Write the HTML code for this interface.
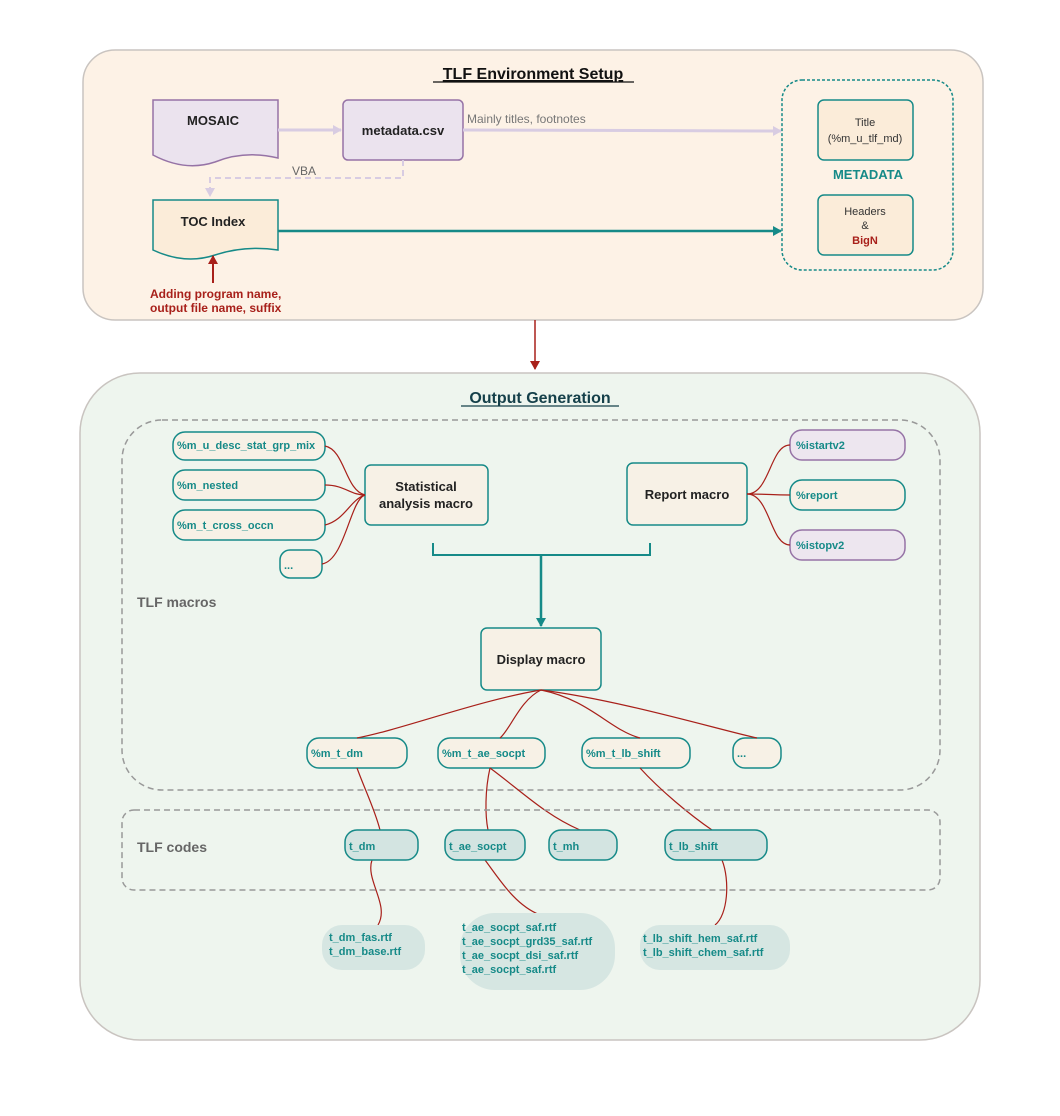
<!DOCTYPE html>
<html><head><meta charset="utf-8"><style>
body{margin:0;background:#fff}
svg text{font-family:"Liberation Sans",sans-serif}
</style></head><body>
<svg width="1060" height="1111" viewBox="0 0 1060 1111" xmlns="http://www.w3.org/2000/svg">
<defs>
<marker id="mt" markerWidth="10" markerHeight="10" refX="8" refY="5" orient="auto" markerUnits="userSpaceOnUse"><path d="M0,0 L9,5 L0,10 z" fill="#168a88"/></marker>
<marker id="mp" markerWidth="10" markerHeight="10" refX="8" refY="5" orient="auto" markerUnits="userSpaceOnUse"><path d="M0,0 L9,5 L0,10 z" fill="#d8cce2"/></marker>
<marker id="mr" markerWidth="10" markerHeight="10" refX="8" refY="5" orient="auto" markerUnits="userSpaceOnUse"><path d="M0,0 L9,5 L0,10 z" fill="#a8201a"/></marker>
</defs>
<!-- top container -->
<rect x="83" y="50" width="900" height="270" rx="32" fill="#fdf2e6" stroke="#c9c4c0" stroke-width="1.5"/>
<text x="533" y="79" font-size="16" font-weight="bold" text-anchor="middle" fill="#111" text-decoration="underline">TLF Environment Setup</text>
<line x1="433" y1="82" x2="634" y2="82" stroke="#111" stroke-width="1.2"/>
<!-- MOSAIC -->
<path d="M153,100 H278 V158 Q245,150 215,162 Q185,172 153,155 Z" fill="#ebe3ee" stroke="#9673a6" stroke-width="1.5"/>
<text x="213" y="125" font-size="13" font-weight="bold" text-anchor="middle" fill="#222">MOSAIC</text>
<rect x="343" y="100" width="120" height="60" rx="5" fill="#ebe3ee" stroke="#9673a6" stroke-width="1.5"/>
<text x="403" y="135" font-size="13" font-weight="bold" text-anchor="middle" fill="#222">metadata.csv</text>
<line x1="278" y1="130" x2="341" y2="130" stroke="#d8cce2" stroke-width="3" marker-end="url(#mp)"/>
<line x1="463" y1="130" x2="781" y2="131" stroke="#d8cce2" stroke-width="3" marker-end="url(#mp)"/>
<text x="467" y="123" font-size="12" fill="#777">Mainly titles, footnotes</text>
<path d="M403,160 V178 H210 V196" fill="none" stroke="#d8cce2" stroke-width="2" stroke-dasharray="6,4" marker-end="url(#mp)"/>
<text x="292" y="175" font-size="12" fill="#666">VBA</text>
<!-- TOC -->
<path d="M153,200 H278 V250 Q245,245 215,255 Q185,265 153,250 Z" fill="#fbecd9" stroke="#168a88" stroke-width="1.5"/>
<text x="213" y="226" font-size="13" font-weight="bold" text-anchor="middle" fill="#222">TOC Index</text>
<line x1="278" y1="231" x2="781" y2="231" stroke="#168a88" stroke-width="2.5" marker-end="url(#mt)"/>
<line x1="213" y1="283" x2="213" y2="256" stroke="#a8201a" stroke-width="2" marker-end="url(#mr)"/>
<text x="150" y="298" font-size="12" font-weight="bold" fill="#a8201a">Adding program name,</text>
<text x="150" y="312" font-size="12" font-weight="bold" fill="#a8201a">output file name, suffix</text>
<!-- METADATA -->
<rect x="782" y="80" width="171" height="190" rx="20" fill="#fdf2e6" stroke="#168a88" stroke-width="1.5" stroke-dasharray="3,2"/>
<rect x="818" y="100" width="95" height="60" rx="6" fill="#fbecd9" stroke="#168a88" stroke-width="1.5"/>
<text x="865" y="126" font-size="11" text-anchor="middle" fill="#333">Title</text>
<text x="865" y="142" font-size="11" text-anchor="middle" fill="#333">(%m_u_tlf_md)</text>
<text x="868" y="179" font-size="13" font-weight="bold" text-anchor="middle" fill="#168a88">METADATA</text>
<rect x="818" y="195" width="95" height="60" rx="6" fill="#fbecd9" stroke="#168a88" stroke-width="1.5"/>
<text x="865" y="215" font-size="11" text-anchor="middle" fill="#333">Headers</text>
<text x="865" y="229" font-size="11" text-anchor="middle" fill="#333">&amp;</text>
<text x="865" y="244" font-size="11" font-weight="bold" text-anchor="middle" fill="#a8201a">BigN</text>
<line x1="535" y1="320" x2="535" y2="369" stroke="#a8201a" stroke-width="1.5" marker-end="url(#mr)"/>
<!-- bottom container -->
<rect x="80" y="373" width="900" height="667" rx="60" fill="#eef5ee" stroke="#c9c4c0" stroke-width="1.5"/>
<text x="540" y="403" font-size="16" font-weight="bold" text-anchor="middle" fill="#15404a">Output Generation</text>
<line x1="461" y1="406" x2="619" y2="406" stroke="#15404a" stroke-width="1.2"/>
<rect x="122" y="420" width="818" height="370" rx="40" fill="none" stroke="#999" stroke-width="1.5" stroke-dasharray="6,4"/>
<text x="137" y="607" font-size="14" font-weight="bold" fill="#666">TLF macros</text>
<g fill="#f7f1e6" stroke="#168a88" stroke-width="1.5">
<rect x="173" y="432" width="152" height="28" rx="12"/>
<rect x="173" y="470" width="152" height="30" rx="12"/>
<rect x="173" y="510" width="152" height="30" rx="12"/>
<rect x="280" y="550" width="42" height="28" rx="10"/>
<rect x="365" y="465" width="123" height="60" rx="6"/>
<rect x="627" y="463" width="120" height="62" rx="6"/>
<rect x="790" y="480" width="115" height="30" rx="12"/>
<rect x="481" y="628" width="120" height="62" rx="6"/>
<rect x="307" y="738" width="100" height="30" rx="12"/>
<rect x="438" y="738" width="107" height="30" rx="12"/>
<rect x="582" y="738" width="108" height="30" rx="12"/>
<rect x="733" y="738" width="48" height="30" rx="12"/>
</g>
<g fill="#ede6ef" stroke="#9673a6" stroke-width="1.5">
<rect x="790" y="430" width="115" height="30" rx="12"/>
<rect x="790" y="530" width="115" height="30" rx="12"/>
</g>
<g font-size="11" font-weight="bold" fill="#168a88">
<text x="177" y="449">%m_u_desc_stat_grp_mix</text>
<text x="177" y="489">%m_nested</text>
<text x="177" y="529">%m_t_cross_occn</text>
<text x="284" y="569">...</text>
<text x="796" y="449">%istartv2</text>
<text x="796" y="499">%report</text>
<text x="796" y="549">%istopv2</text>
<text x="311" y="757">%m_t_dm</text>
<text x="442" y="757">%m_t_ae_socpt</text>
<text x="586" y="757">%m_t_lb_shift</text>
<text x="737" y="757">...</text>
</g>
<g font-size="13" font-weight="bold" fill="#222" text-anchor="middle">
<text x="426" y="491">Statistical</text>
<text x="426" y="508">analysis macro</text>
<text x="687" y="499">Report macro</text>
<text x="541" y="664">Display macro</text>
</g>
<g fill="none" stroke="#a8201a" stroke-width="1.2">
<path d="M325,446 C345,450 345,490 365,495"/>
<path d="M325,485 C345,485 350,495 365,495"/>
<path d="M325,525 C345,520 350,500 365,495"/>
<path d="M322,564 C345,560 350,500 365,495"/>
<path d="M747,494 C770,494 770,445 790,445"/>
<path d="M747,494 C770,494 770,495 790,495"/>
<path d="M747,494 C770,494 770,545 790,545"/>
<path d="M541,690 C480,700 400,730 357,738"/>
<path d="M541,690 C520,700 510,730 500,738"/>
<path d="M541,690 C590,700 610,730 640,738"/>
<path d="M541,690 C620,700 720,730 757,738"/>
<path d="M357,768 C365,790 375,810 380,830"/>
<path d="M490,768 C485,790 485,815 488,830"/>
<path d="M490,768 C520,790 545,815 580,830"/>
<path d="M640,768 C660,790 690,815 712,830"/>
<path d="M372,860 C365,880 390,905 378,925"/>
<path d="M485,860 C500,880 515,905 540,915"/>
<path d="M722,860 C730,880 728,915 715,925"/>
</g>
<path d="M433,543 V555 H650 V543" fill="none" stroke="#168a88" stroke-width="2"/>
<line x1="541" y1="555" x2="541" y2="626" stroke="#168a88" stroke-width="2.5" marker-end="url(#mt)"/>
<!-- TLF codes -->
<rect x="122" y="810" width="818" height="80" rx="12" fill="none" stroke="#999" stroke-width="1.5" stroke-dasharray="6,4"/>
<text x="137" y="852" font-size="14" font-weight="bold" fill="#666">TLF codes</text>
<g fill="#d3e4e1" stroke="#168a88" stroke-width="1.5">
<rect x="345" y="830" width="73" height="30" rx="12"/>
<rect x="445" y="830" width="80" height="30" rx="12"/>
<rect x="549" y="830" width="68" height="30" rx="12"/>
<rect x="665" y="830" width="102" height="30" rx="12"/>
</g>
<g font-size="11" font-weight="bold" fill="#168a88">
<text x="349" y="850">t_dm</text>
<text x="449" y="850">t_ae_socpt</text>
<text x="553" y="850">t_mh</text>
<text x="669" y="850">t_lb_shift</text>
</g>
<g fill="#d6e6e2">
<rect x="322" y="925" width="103" height="45" rx="20"/>
<rect x="460" y="913" width="155" height="77" rx="35"/>
<rect x="640" y="925" width="150" height="45" rx="20"/>
</g>
<g font-size="11" font-weight="bold" fill="#168a88">
<text x="329" y="941">t_dm_fas.rtf</text>
<text x="329" y="955">t_dm_base.rtf</text>
<text x="462" y="931">t_ae_socpt_saf.rtf</text>
<text x="462" y="945">t_ae_socpt_grd35_saf.rtf</text>
<text x="462" y="959">t_ae_socpt_dsi_saf.rtf</text>
<text x="462" y="973">t_ae_socpt_saf.rtf</text>
<text x="643" y="942">t_lb_shift_hem_saf.rtf</text>
<text x="643" y="956">t_lb_shift_chem_saf.rtf</text>
</g>
</svg>
</body></html>
